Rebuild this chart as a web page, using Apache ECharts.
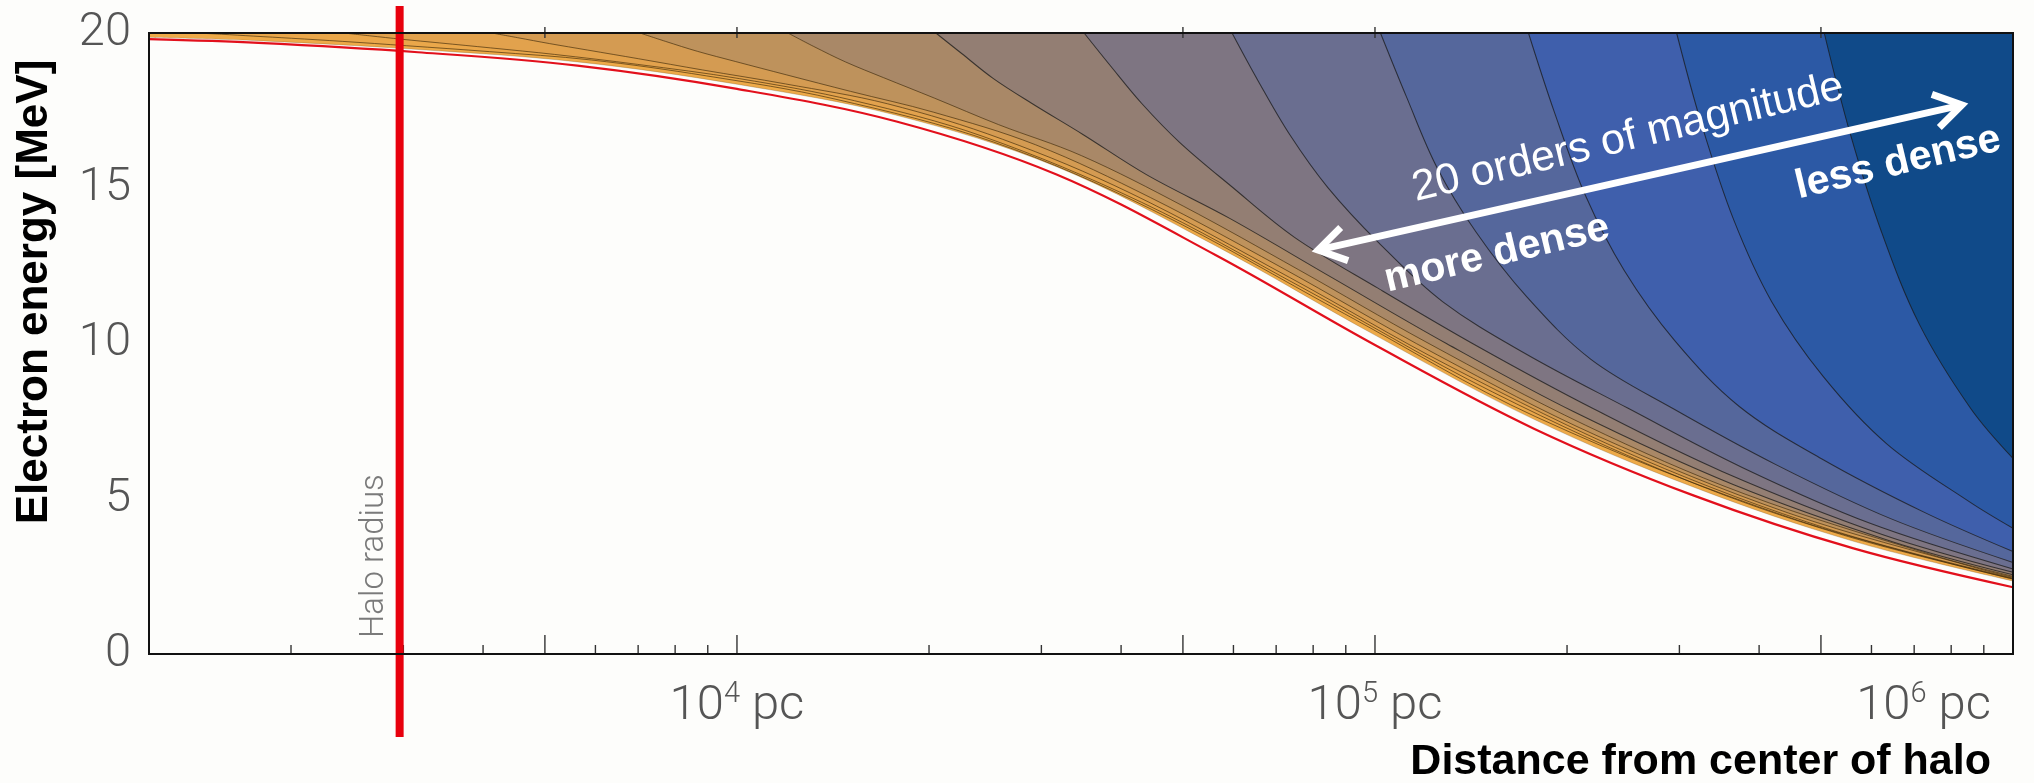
<!DOCTYPE html>
<html><head><meta charset="utf-8">
<script src="https://cdn.jsdelivr.net/npm/echarts@6/dist/echarts.min.js"></script>
<style>html,body{margin:0;padding:0;background:#fdfdfb;}#c{width:2034px;height:783px;}</style>
</head><body><div id="c"></div>
<script>
// ---------------- data ----------------
const haloRadius = 2960;                 // pc
const distMin = 1198, distMax = 1e6;     // x-axis range, pc
const energyTicks = [0, 5, 10, 15, 20];  // MeV
const labelPowers = [4, 5, 6];           // 10^n pc labels
const majorTicks = [5e3, 1e4, 5e4, 1e5, 5e5];
const minorTicks = [2e3, 3e3, 4e3, 6e3, 7e3, 8e3, 9e3, 2e4, 3e4, 4e4, 6e4, 7e4, 8e4, 9e4, 2e5, 3e5, 4e5, 6e5, 7e5, 8e5, 9e5];

// red limiting curve and lowest filled boundary
const gridDist   = [1198, 1778, 3162, 5623, 1e4, 17783, 31623, 56234, 1e5, 177828, 316228, 562341, 1e6];
const redEnergy  = [19.80, 19.68, 19.38, 18.95, 18.20, 17.15, 15.45, 12.85, 9.95, 7.25, 5.10, 3.40, 2.15];
const baseEnergy = [19.86, 19.75, 19.47, 19.07, 18.35, 17.35, 15.70, 13.15, 10.27, 7.55, 5.37, 3.63, 2.35];

// density contours, [distance pc, energy MeV]; c0 = least dense (top right)
const c0  = [[5.06e5,20],[5.55e5,16.8],[6.22e5,13.6],[7.14e5,10.6],[8.59e5,7.9],[1e6,6.3]];
const c1  = [[2.97e5,20],[3.25e5,17.06],[3.65e5,13.98],[4.19e5,11.33],[5.04e5,8.94],[6.34e5,6.77],[8.55e5,4.9],[1e6,4.05]];
const c2  = [[1.74e5,20],[1.91e5,17.46],[2.14e5,14.74],[2.46e5,12.34],[2.95e5,10.09],[3.72e5,7.98],[5.01e5,6.29],[7.25e5,4.57],[1e6,3.3]];
const c3  = [[1.02e5,20],[1.12e5,17.95],[1.25e5,15.68],[1.44e5,13.59],[1.73e5,11.50],[2.18e5,9.49],[2.94e5,7.89],[4.25e5,6.10],[6.43e5,4.36],[1e6,2.95]];
const c4  = [[5.97e4,20],[6.55e4,18.48],[7.35e4,16.73],[8.43e4,15.03],[1.014e5,13.24],[1.276e5,11.35],[1.722e5,9.67],[2.489e5,7.92],[3.77e5,6.00],[5.97e5,4.21],[1e6,2.74]];
const c5  = [[3.50e4,20],[3.84e4,18.97],[4.31e4,17.73],[4.94e4,16.48],[5.94e4,15.08],[7.48e4,13.42],[1.009e5,11.79],[1.459e5,9.87],[2.208e5,7.88],[3.50e5,5.88],[6.22e5,3.86],[1e6,2.63]];
const c6  = [[2.05e4,20],[2.25e4,19.34],[2.52e4,18.54],[2.90e4,17.73],[3.48e4,16.74],[4.39e4,15.43],[5.92e4,14.03],[8.55e4,12.13],[1.294e5,10.00],[2.05e5,7.80],[3.65e5,5.45],[6.49e5,3.61],[1e6,2.55]];
const c7  = [[1.202e4,20],[1.318e4,19.57],[1.479e4,19.07],[1.698e4,18.56],[2.041e4,17.90],[2.570e4,17.05],[3.467e4,16.05],[5.011e4,14.42],[7.585e4,12.38],[1.202e5,10.05],[2.137e5,7.37],[3.801e5,5.15],[7.585e5,3.15],[1e6,2.50]];
const c8  = [[7047,20],[7727,19.73],[8670,19.41],[9954,19.08],[11967,18.65],[15066,18.12],[20324,17.45],[29379,16.40],[44467,14.70],[70470,12.51],[1.253e5,9.63],[2.228e5,7.03],[4.447e5,4.54],[8.87e5,2.74],[1e6,2.47]];
const c9  = [[4130,20],[4529,19.85],[5081,19.66],[5834,19.45],[7014,19.17],[8830,18.81],[11911,18.36],[17218,17.72],[26060,16.58],[41300,14.85],[73431,12.13],[1.306e5,9.28],[2.606e5,6.30],[5.20e5,3.99],[1e6,2.44]];
const c10 = [[2421,20],[2655,19.91],[2979,19.80],[3420,19.68],[4111,19.52],[5176,19.31],[6982,18.99],[10093,18.53],[15277,17.82],[24210,16.68],[43045,14.55],[76552,11.82],[1.528e5,8.44],[3.048e5,5.63],[5.42e5,3.83],[1e6,2.42]];
const c11 = [[1419,20],[1556,19.96],[1746,19.90],[2004,19.83],[2410,19.73],[3034,19.59],[4092,19.40],[5916,19.13],[8954,18.62],[14190,17.88],[25230,16.49],[44869,14.30],[89539,10.96],[1.787e5,7.64],[4.487e5,4.38],[1e6,2.41]];

// band colours, bottom (most dense) to top (least dense)
const bandColors = ['#EEAA48','#EAA74A','#E2A24D','#D49B52','#BE925C','#A98867','#937E73','#7E7582','#6A6E90','#55679C','#3F5FAC','#2C59A5','#104A89'];

// ---------------- chart ----------------
const chart = echarts.init(document.getElementById('c'), null, {renderer: 'canvas', width: 2034, height: 783});
const G = {left: 149, top: 33, right: 21, bottom: 129};
const plotW = 2034 - G.left - G.right, plotH = 783 - G.top - G.bottom;
const lightFont = 'Roboto';
const SMOOTH = 0.35;

const contoursBottomUp = [c11, c10, c9, c8, c7, c6, c5, c4, c3, c2, c1, c0];
const series = [];
series.push({
  type: 'line', data: gridDist.map((d, i) => [d, baseEnergy[i]]),
  smooth: SMOOTH, symbol: 'none', silent: true, z: 2,
  lineStyle: {width: 0.8, color: '#5a3d15', opacity: 0.3},
  areaStyle: {origin: 'end', color: bandColors[0], opacity: 1}
});
contoursBottomUp.forEach((c, i) => series.push({
  type: 'line', data: c, smooth: SMOOTH, symbol: 'none', silent: true, z: 2,
  lineStyle: {width: i < 5 ? 0.9 : 1.05, color: i < 5 ? '#3a2608' : '#1a1a1a', opacity: i < 5 ? 0.7 : 0.75},
  areaStyle: {origin: 'end', color: bandColors[i + 1], opacity: 1}
}));
series.push({
  type: 'line', data: gridDist.map((d, i) => [d, redEnergy[i]]),
  smooth: SMOOTH, symbol: 'none', silent: true, z: 3,
  lineStyle: {width: 2.2, color: '#e2101c'}
});
// minor ticks (bottom)
series.push({
  type: 'custom', data: minorTicks.map(v => [v, 0]), clip: false, silent: true, z: 6,
  renderItem: (p, api) => { const q = api.coord([api.value(0), 0]);
    return {type: 'line', shape: {x1: q[0], y1: q[1], x2: q[0], y2: q[1] - 9}, style: {stroke: '#333', lineWidth: 1.4}}; }
});
// major ticks (bottom long, top short)
series.push({
  type: 'custom', data: majorTicks.map(v => [v, 0]), clip: false, silent: true, z: 6,
  renderItem: (p, api) => { const b = api.coord([api.value(0), 0]); const t = api.coord([api.value(0), 20]);
    return {type: 'group', children: [
      {type: 'line', shape: {x1: b[0], y1: b[1], x2: b[0], y2: b[1] - 19}, style: {stroke: '#333', lineWidth: 1.4}},
      {type: 'line', shape: {x1: t[0], y1: t[1] - 6, x2: t[0], y2: t[1] + 5}, style: {stroke: '#333', lineWidth: 1.4}}
    ]}; }
});
// halo radius marker
series.push({
  type: 'custom', data: [[haloRadius, 0]], clip: false, silent: true, z: 8,
  renderItem: (p, api) => { const b = api.coord([api.value(0), 0]); const t = api.coord([api.value(0), 20]);
    return {type: 'group', children: [
      {type: 'line', shape: {x1: b[0], y1: t[1] - 27, x2: b[0], y2: b[1] + 83}, style: {stroke: '#e8000d', lineWidth: 8}},
      {type: 'text', x: b[0] - 25, y: b[1] - 16, rotation: Math.PI / 2,
       style: {text: 'Halo radius', fontSize: 33, fontFamily: lightFont, fontWeight: 300, fill: '#7a7a7a', align: 'left', verticalAlign: 'middle'}}
    ]}; }
});

const arrowLen = 660, arrowAng = 0.2215;
chart.setOption({
  animation: false,
  backgroundColor: '#fdfdfb',
  grid: {left: G.left, top: G.top, right: G.right, bottom: G.bottom, containLabel: false, show: false},
  xAxis: {
    type: 'log', logBase: 10, min: distMin, max: distMax,
    axisLine: {show: true, lineStyle: {color: '#111', width: 2}},
    axisTick: {show: false}, splitLine: {show: false}, minorTick: {show: false},
    axisLabel: {
      showMinLabel: false, alignMaxLabel: 'right', margin: 26,
      formatter: v => { const l = Math.log10(v), p = Math.round(l);
        if (Math.abs(l - p) > 1e-6 || labelPowers.indexOf(p) < 0) return '';
        return '{b|10}{s|' + p + '}{b| pc}' + (p === 6 ? '{g|}' : ''); },
      rich: {
        b: {fontSize: 49, fontFamily: lightFont, fontWeight: 300, color: '#555', lineHeight: 54},
        s: {fontSize: 29, fontFamily: lightFont, fontWeight: 300, color: '#555', verticalAlign: 'top', lineHeight: 36},
        g: {width: 22}
      }
    }
  },
  yAxis: {
    type: 'value', min: energyTicks[0], max: energyTicks[energyTicks.length - 1], interval: energyTicks[1] - energyTicks[0],
    axisLine: {show: true, lineStyle: {color: '#111', width: 2}},
    axisTick: {show: false}, splitLine: {show: false},
    axisLabel: {fontSize: 47, fontFamily: lightFont, fontWeight: 300, color: '#555', margin: 18}
  },
  series: series,
  graphic: [
    {type: 'rect', z: 50, silent: true, shape: {x: G.left, y: G.top, width: plotW, height: plotH},
     style: {fill: null, stroke: '#111', lineWidth: 2}},
    {type: 'text', z: 50, x: 35, y: 292, rotation: Math.PI / 2,
     style: {text: 'Electron energy [MeV]', font: 'bold 44px "Liberation Sans", Arial, sans-serif', fill: '#000', align: 'center', verticalAlign: 'middle'}},
    {type: 'text', z: 50, x: 1991, y: 762,
     style: {text: 'Distance from center of halo', font: 'bold 43px "Liberation Sans", Arial, sans-serif', fill: '#000', align: 'right', verticalAlign: 'middle'}},
    {type: 'group', z: 50, x: 1640, y: 177.5, rotation: arrowAng, children: [
      {type: 'line', z: 50, shape: {x1: -arrowLen / 2 + 4, y1: 0, x2: arrowLen / 2 - 4, y2: 0}, style: {stroke: '#fff', lineWidth: 7}},
      {type: 'polyline', z: 50, shape: {points: [[arrowLen / 2 - 27, -17], [arrowLen / 2, 0], [arrowLen / 2 - 27, 17]]}, style: {stroke: '#fff', lineWidth: 7, fill: null, lineJoin: 'miter'}},
      {type: 'polyline', z: 50, shape: {points: [[-arrowLen / 2 + 27, -17], [-arrowLen / 2, 0], [-arrowLen / 2 + 27, 17]]}, style: {stroke: '#fff', lineWidth: 7, fill: null, lineJoin: 'miter'}}
    ]},
    {type: 'text', z: 50, x: 1628, y: 138, rotation: 0.235,
     style: {text: '20 orders of magnitude', font: '43px "Liberation Sans", Arial, sans-serif', fill: '#fff', align: 'center', verticalAlign: 'middle'}},
    {type: 'text', z: 50, x: 1898, y: 163, rotation: 0.235,
     style: {text: 'less dense', font: 'bold 41px "Liberation Sans", Arial, sans-serif', fill: '#fff', align: 'center', verticalAlign: 'middle'}},
    {type: 'text', z: 50, x: 1497, y: 254, rotation: 0.235,
     style: {text: 'more dense', font: 'bold 41px "Liberation Sans", Arial, sans-serif', fill: '#fff', align: 'center', verticalAlign: 'middle'}}
  ]
});
</script>
</body></html>
